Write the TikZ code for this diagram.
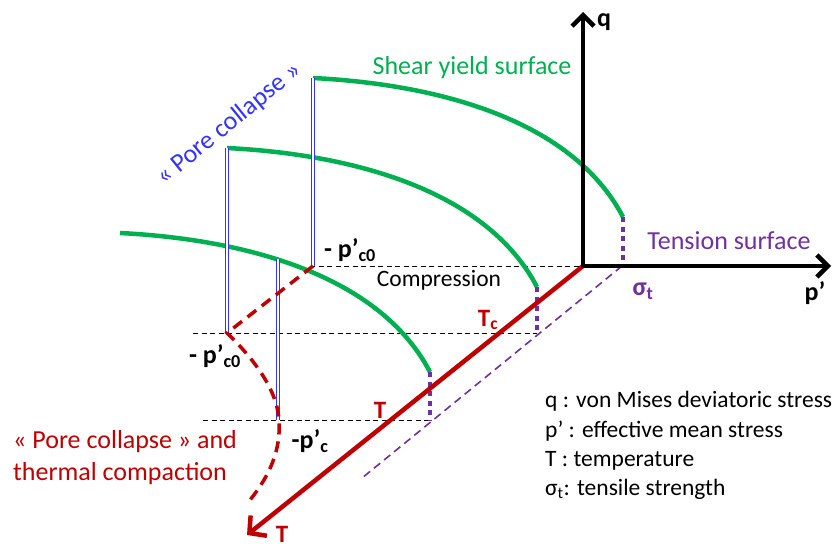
\documentclass[tikz,border=0pt]{standalone}
\usepackage{fontspec}
\setmainfont{Carlito}
\usetikzlibrary{arrows.meta}
\definecolor{sgreen}{RGB}{0,176,80}
\definecolor{dred}{RGB}{192,0,0}
\definecolor{purp}{RGB}{112,48,160}
\definecolor{pblue}{RGB}{51,51,255}
\newcommand{\fs}[1]{\fontsize{#1}{#1}\selectfont}
\begin{document}
\begin{tikzpicture}[x=1pt,y=-1pt,
  axisline/.style={line width=4.5pt, line join=miter},
  surf/.style={sgreen, line width=4.5pt},
  collapse/.style={pblue, line width=1.1pt, double=white, double distance=1.6pt},
  tens/.style={purp, line width=4.5pt, dash pattern=on 5pt off 4.5pt},
  tensline/.style={purp, line width=1.6pt, dash pattern=on 8pt off 5pt},
  guide/.style={black, line width=0.9pt, dash pattern=on 5pt off 3.5pt},
  taxis/.style={dred, line width=4.5pt},
  compac/.style={dred, line width=3.5pt, dash pattern=on 11pt off 7pt},
  lbl/.style={inner sep=0pt, font=\fs{26}},
  sym/.style={inner sep=0pt, font=\fs{26}\bfseries},
  small/.style={inner sep=0pt, font=\fs{23.5}, anchor=base west}
]
\useasboundingbox (0,0) rectangle (838,547);

% key points
\coordinate (O) at (583,266);
\coordinate (qtip) at (583,12);
\coordinate (ptip) at (831,266);
\coordinate (Ttip) at (247,535);
\coordinate (st) at (622,266);
\coordinate (tl) at (362,478);

% guide lines
\coordinate (g1a) at (310,266);
\coordinate (g2a) at (193,333); \coordinate (g2b) at (537,333);
\coordinate (g3a) at (203,420); \coordinate (g3b) at (430,420);
\draw[guide] (g1a) -- (O);
\draw[guide] (g2a) -- (g2b);
\draw[guide] (g3a) -- (g3b);

% tension dashed line
\draw[tensline] (st) -- (tl);

% shear yield surfaces
\coordinate (s1a) at (313,78);  \coordinate (s1b) at (623,217);
\coordinate (s2a) at (227,148); \coordinate (s2b) at (537,287);
\coordinate (s3a) at (120,233); \coordinate (s3b) at (430,372);
\draw[surf] (s1a) .. controls (450,85) and (575,125) .. (s1b);
\draw[surf] (s2a) .. controls (364,155) and (489,195) .. (s2b);
\draw[surf] (s3a) .. controls (257,240) and (382,280) .. (s3b);

% tension surfaces (dotted)
\coordinate (d1) at (623,266);
\draw[tens] (s1b) -- (d1);
\draw[tens] (s2b) -- (g2b);
\draw[tens] (s3b) -- (g3b);

% pore collapse lines
\coordinate (c1b) at (313,266);
\coordinate (c2b) at (227,333);
\coordinate (c3a) at (278,259); \coordinate (c3b) at (278,420);
\draw[collapse] (s1a) -- (c1b);
\draw[collapse] (s2a) -- (c2b);
\draw[collapse] (c3a) -- (c3b);

% compaction curve
\coordinate (cend) at (250,500);
\draw[compac] (c1b) -- (c2b) .. controls (255,360) and (277,390) .. (279,420)
   .. controls (281,450) and (270,475) .. (cend);

% axes
\draw[taxis, -{Straight Barb[length=12pt,width=26pt]}] (O) -- (Ttip);
\draw[axisline, {Straight Barb[length=11pt,width=22pt]}-{Straight Barb[length=11pt,width=22pt]}] (qtip) -- (O) -- (ptip);

% labels
\node[sym] (lq) at (604,22) {q};
\node[sym] (lp) at (815,293) {p’};
\node[sym, text=dred, font=\fs{25}\bfseries] (lT) at (282,534) {T};
\node[lbl, text=sgreen] (lshear) at (472,68) {Shear yield surface};
\node[lbl, text=purp] (ltens) at (729,241) {Tension surface};
\node[sym, text=purp] (lsig) at (643,291) {σ\textsubscript{t}};
\node[inner sep=0pt, font=\fs{23.5}] (lcomp) at (439,280) {Compression};
\node[sym] (lpc1) at (350,250) {- p’\textsubscript{c0}};
\node[sym] (lpc2) at (215,356) {- p’\textsubscript{c0}};
\node[sym] (lpc3) at (310,441) {-p’\textsubscript{c}};
\node[inner sep=0pt, font=\fs{25}\bfseries, text=dred] (lTc) at (488,320) {T\textsubscript{c}};
\node[inner sep=0pt, font=\fs{25}\bfseries, text=dred] (lT2) at (380,410) {T};
\node[lbl, text=pblue, rotate=39] (lpore) at (229,124) {« Pore collapse »};
\node[lbl, text=dred, anchor=base west] (lred1) at (13,448) {« Pore collapse » and};
\node[lbl, text=dred, anchor=base west] (lred2) at (13,480) {thermal compaction};
\node[small] (k1) at (545,407) {q : von Mises deviatoric stress};
\node[small] (k2) at (545,437) {p’ : effective mean stress};
\node[small] (k3) at (545,466) {T : temperature};
\node[small] (k4) at (545,495) {σ\textsubscript{t}: tensile strength};
\end{tikzpicture}
\end{document}
